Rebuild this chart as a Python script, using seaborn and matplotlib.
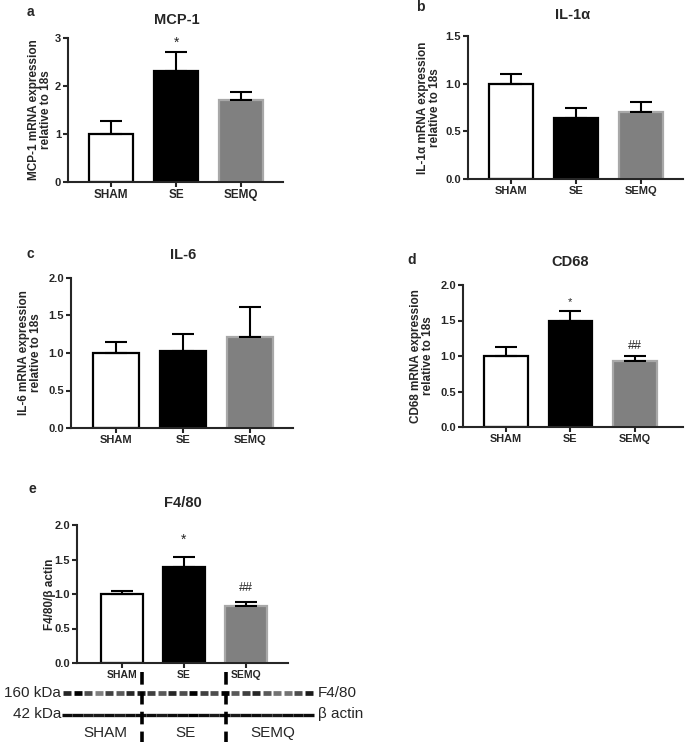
import matplotlib
matplotlib.use('Agg')
from matplotlib import pyplot as plt
import seaborn as sns
import numpy as np
import pandas as pd

groups = ['SHAM', 'SE', 'SEMQ']

# panel values (mean) and upper SEM
mcp1_mean = [1.00, 2.32, 1.70]
mcp1_sem = [0.27, 0.39, 0.18]
il1a_mean = [1.00, 0.64, 0.70]
il1a_sem = [0.10, 0.10, 0.11]
il6_mean = [1.00, 1.03, 1.21]
il6_sem = [0.15, 0.22, 0.40]
cd68_mean = [1.00, 1.49, 0.93]
cd68_sem = [0.12, 0.15, 0.07]
f480_mean = [1.00, 1.39, 0.83]
f480_sem = [0.05, 0.14, 0.05]

# western blot band darkness (0 = none, 1 = black), 8 lanes per group
blot_f480 = [0.85, 1.0, 0.7, 0.5, 0.75, 0.65, 0.85, 0.9,
             0.75, 0.65, 0.85, 0.7, 1.0, 0.75, 0.7, 1.0,
             0.65, 0.75, 0.85, 0.65, 0.55, 0.55, 0.7, 0.9]
blot_actin = [0.95, 0.95, 0.9, 0.9, 0.95, 0.9, 0.95, 0.95,
              0.95, 0.9, 0.95, 0.95, 1.0, 0.95, 0.9, 0.95,
              0.9, 0.95, 0.95, 0.9, 0.9, 0.95, 0.95, 0.95]

sns.set_style('ticks')
plt.rcParams['font.family'] = ['Liberation Sans', 'DejaVu Sans']

W, H = 685, 745
fig = plt.figure(figsize=(W / 100, H / 100), dpi=100)

# overlay in pixel coordinates for labels and the blot
ov = fig.add_axes([0, 0, 1, 1])
ov.set_xlim(0, W)
ov.set_ylim(H, 0)
ov.axis('off')

colors = ['white', 'black', '#808080']
edges = ['black', 'black', '#a8a8a8']


def yticks_fmt(ticks):
    if max(ticks) >= 3:
        return [str(int(t)) for t in ticks]
    return ['%.1f' % t for t in ticks]


def panel(left, right, top, bottom, xlim, mean, sem, ymax, yticks, ylabel,
          ylab_x, title, title_xy, letter, letter_xy, marks=(), fs=8):
    ax = fig.add_axes([left / W, 1 - bottom / H, (right - left) / W, (bottom - top) / H])
    df = pd.DataFrame({'group': groups, 'value': mean})
    sns.barplot(data=df, x='group', y='value', hue='group', palette=colors,
                width=0.68, linewidth=1.6, legend=False, errorbar=None, ax=ax)
    for p, ec in zip(ax.patches, edges):
        p.set_edgecolor(ec)
    ax.errorbar(range(3), mean, yerr=[np.zeros(3), sem], fmt='none',
                ecolor='black', elinewidth=1.5, capsize=8, capthick=1.5, zorder=5)
    for i, y, s, size in marks:
        ax.text(i, y, s, ha='center', va='bottom', fontsize=size)
    ax.set_xlim(*xlim)
    ax.set_ylim(0, ymax)
    ax.set_yticks(yticks)
    ax.set_yticklabels(yticks_fmt(yticks), fontweight='bold', fontsize=8)
    ax.set_xticks(range(3))
    ax.set_xticklabels(groups, fontweight='bold', fontsize=fs)
    ax.set_xlabel('')
    ax.set_ylabel('')
    ax.tick_params(direction='out', length=3.5, width=1.5, pad=1.5)
    sns.despine(ax=ax)
    for sp in ['left', 'bottom']:
        ax.spines[sp].set_linewidth(1.5)
    ov.text(ylab_x, (top + bottom) / 2, ylabel, rotation=90, ha='center',
            va='center', fontweight='bold', fontsize=8.5, multialignment='center',
            linespacing=1.0)
    ov.text(title_xy[0], title_xy[1], title, ha='center', va='center',
            fontweight='bold', fontsize=10.5)
    ov.text(letter_xy[0], letter_xy[1], letter, ha='center', va='center',
            fontweight='bold', fontsize=10)
    return ax


panel(68, 283, 38, 182, (-0.66, 2.64), mcp1_mean, mcp1_sem, 3, [0, 1, 2, 3],
      'MCP-1 mRNA expression\nrelative to 18s', 40, 'MCP-1', (177, 20), 'a', (30, 12),
      marks=[(1, 2.76, '*', 10)], fs=8.5)
panel(468, 683, 36, 179, (-0.66, 2.65), il1a_mean, il1a_sem, 1.5, [0, 0.5, 1.0, 1.5],
      'IL-1α mRNA expression\nrelative to 18s', 429, 'IL-1α', (573, 15), 'b', (420, 7))
panel(71, 293, 278, 428, (-0.67, 2.64), il6_mean, il6_sem, 2.0, [0, 0.5, 1.0, 1.5, 2.0],
      'IL-6 mRNA expression\nrelative to 18s', 30, 'IL-6', (183, 255), 'c', (30, 254))
panel(463, 683, 285, 427, (-0.67, 2.75), cd68_mean, cd68_sem, 2.0, [0, 0.5, 1.0, 1.5, 2.0],
      'CD68 mRNA expression\nrelative to 18s', 422, 'CD68', (570, 262), 'd', (412, 260),
      marks=[(1, 1.69, '*', 8), (2, 1.05, '##', 9)], fs=7.8)
panel(77, 288, 525, 663, (-0.72, 2.68), f480_mean, f480_sem, 2.0, [0, 0.5, 1.0, 1.5, 2.0],
      'F4/80/β actin', 50, 'F4/80', (183, 503), 'e', (32, 489),
      marks=[(1, 1.68, '*', 10), (2, 1.0, '##', 9)], fs=7.5)

# western blot strip
lane_w = 10.5
x0 = 62
for i, (f, a) in enumerate(zip(blot_f480, blot_actin)):
    xc = x0 + lane_w * (i + 0.5)
    ov.hlines(693, xc - 4.2, xc + 4.2, colors=str(round(1 - f, 2)), linewidth=3.4)
    ov.hlines(715, xc - 5.25, xc + 5.25, colors=str(round(1 - a, 2)), linewidth=2.4)
for k in (1, 2):
    xd = x0 + lane_w * 8 * k - 4
    ov.plot([xd, xd], [672, 742], color='black', linewidth=2.6, dashes=(3.5, 2))

ov.text(61, 693, '160 kDa', ha='right', va='center', fontsize=11)
ov.text(61, 714, '42 kDa', ha='right', va='center', fontsize=11)
ov.text(318, 693, 'F4/80', ha='left', va='center', fontsize=11)
ov.text(318, 714, 'β actin', ha='left', va='center', fontsize=11)
for lab, xc in zip(groups, [105, 185, 273]):
    ov.text(xc, 733, lab, ha='center', va='center', fontsize=11)

plt.savefig('out.png', dpi=100)
plt.close('all')
